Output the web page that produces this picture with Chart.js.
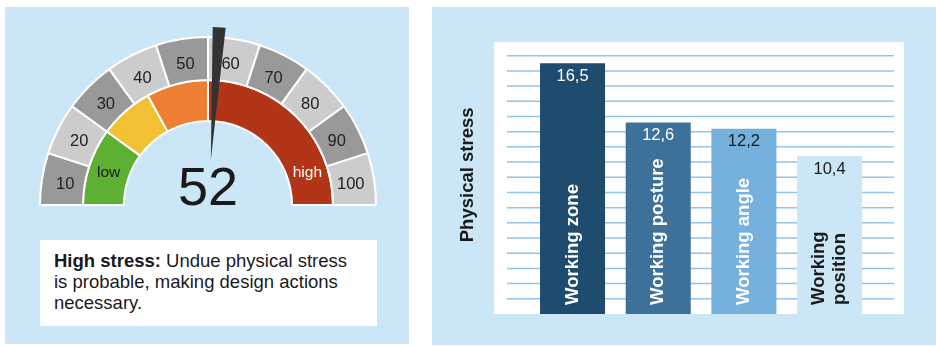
<!DOCTYPE html>
<html>
<head>
<meta charset="utf-8">
<script src="https://cdn.jsdelivr.net/npm/chart.js@4"></script>
<style>
  body { margin: 0; width: 936px; height: 346px; background: #fff; position: relative; overflow: hidden;
         font-family: "Liberation Sans", Arial, sans-serif; }
  .panel { position: absolute; background: #cbe7f7; }
  #left { left: 5px; top: 7px; width: 404px; height: 337px; }
  #right { left: 432px; top: 7px; width: 504px; height: 338px; }
  canvas { position: absolute; left: 0; top: 0; }
  #note { position: absolute; left: 35px; top: 233px; width: 337px; height: 86px; background: #fff;
          box-sizing: border-box; padding: 10px 0 0 14px; font-size: 18.5px; line-height: 21px; color: #1a1a1a; }
</style>
</head>
<body>
<div class="panel" id="left">
  <canvas id="gauge" width="404" height="337"></canvas>
  <div id="note"><b>High stress:</b> Undue physical stress<br>is probable, making design actions<br>necessary.</div>
</div>
<div class="panel" id="right">
  <canvas id="bars" width="504" height="338"></canvas>
</div>
<script>
// gauge data
const gaugeTicks = ['10', '20', '30', '40', '50', '60', '70', '80', '90', '100'];
const gaugeTickSpans = [10, 10, 10, 10, 10, 10, 10, 10, 10, 10];
const zoneLabels = ['low', '', '', 'high'];
const zoneSpans = [20, 14, 16, 50];
const stressValue = 52;

// bar data
const categories = [['Working zone'], ['Working posture'], ['Working angle'], ['Working', 'position']];
const stressScores = [16.5, 12.6, 12.2, 10.4];
const valueLabels = ['16,5', '12,6', '12,2', '10,4'];

const FONT = '"Liberation Sans", Arial, sans-serif';
const barColors = ['#1f4b6e', '#3d7199', '#76b1dd', '#cbe7f7'];
const barTextColors = ['#fff', '#fff', '#fff', '#1a1a1a'];
const valueTextColors = ['#fff', '#fff', '#1a1a1a', '#1a1a1a'];

const gaugeDecor = {
  id: 'gaugeDecor',
  afterDatasetsDraw(chart) {
    const {ctx} = chart;
    const outer = chart.getDatasetMeta(0).data;
    const inner = chart.getDatasetMeta(1).data;
    const cx = outer[0].x, cy = outer[0].y;
    ctx.save();
    ctx.textAlign = 'center';
    ctx.textBaseline = 'middle';

    // tick labels in the grey ring
    ctx.font = '16.5px ' + FONT;
    ctx.fillStyle = '#222';
    outer.forEach((arc, i) => {
      const a = (arc.startAngle + arc.endAngle) / 2;
      const r = (arc.innerRadius + arc.outerRadius) / 2 - 2;
      ctx.fillText(gaugeTicks[i], cx + r * Math.cos(a), cy + r * Math.sin(a) + 2);
    });

    // low / high
    ctx.font = '15.5px ' + FONT;
    inner.forEach((arc, i) => {
      if (!zoneLabels[i]) return;
      const a = i === 0 ? arc.startAngle + Math.PI / 10 : arc.endAngle - Math.PI / 10;
      const r = (arc.innerRadius + arc.outerRadius) / 2;
      ctx.fillStyle = i === 0 ? '#1a1a1a' : '#fff';
      ctx.fillText(zoneLabels[i], cx + r * Math.cos(a), cy + r * Math.sin(a));
    });

    // value
    ctx.font = '54px ' + FONT;
    ctx.fillStyle = '#1a1a1a';
    ctx.textBaseline = 'alphabetic';
    ctx.fillText(String(stressValue), cx, cy);

    // needle
    const start = outer[0].startAngle, end = outer[outer.length - 1].endAngle;
    const a = start + (end - start) * stressValue / 100;
    const r0 = 45, r1 = 178, hw = 6.5;
    const px = -Math.sin(a), py = Math.cos(a);
    ctx.beginPath();
    ctx.moveTo(cx + r0 * Math.cos(a), cy + r0 * Math.sin(a));
    ctx.lineTo(cx + r1 * Math.cos(a) + px * hw, cy + r1 * Math.sin(a) + py * hw);
    ctx.lineTo(cx + r1 * Math.cos(a) - px * hw, cy + r1 * Math.sin(a) - py * hw);
    ctx.closePath();
    ctx.fillStyle = '#333';
    ctx.fill();
    ctx.restore();
  }
};

new Chart(document.getElementById('gauge'), {
  type: 'doughnut',
  data: {
    labels: gaugeTicks,
    datasets: [
      {
        data: gaugeTickSpans,
        backgroundColor: gaugeTicks.map((t, i) => i % 2 === 0 ? '#999999' : '#cccccc'),
        borderColor: '#fff',
        borderWidth: 2,
        weight: 43
      },
      {
        data: zoneSpans,
        backgroundColor: ['#5db031', '#f1c033', '#ee7f32', '#b33517'],
        borderColor: '#fff',
        borderWidth: 2,
        weight: 41
      }
    ]
  },
  options: {
    responsive: false,
    animation: false,
    rotation: -90,
    circumference: 180,
    cutout: '50%',
    radius: 168,
    layout: {padding: {left: 35, right: 33, top: 30, bottom: 139}},
    plugins: {legend: {display: false}, tooltip: {enabled: false}}
  },
  plugins: [gaugeDecor]
});

const barDecor = {
  id: 'barDecor',
  beforeDatasetsDraw(chart) {
    const {ctx, chartArea: area, scales: {y}} = chart;
    ctx.save();
    ctx.fillStyle = '#fff';
    ctx.fillRect(area.left - 35.7, area.top - 13.7, area.width + 67.3, area.height + 13.7);
    ctx.strokeStyle = '#93c5e8';
    ctx.lineWidth = 1.5;
    for (let v = 1; v <= 17; v++) {
      const py = y.getPixelForValue(v);
      ctx.beginPath();
      ctx.moveTo(area.left - 22.7, py);
      ctx.lineTo(area.right + 21.6, py);
      ctx.stroke();
    }
    // axis title
    ctx.translate(area.left - 61.7, (area.top + area.bottom) / 2 - 10);
    ctx.rotate(-Math.PI / 2);
    ctx.font = 'bold 18.5px ' + FONT;
    ctx.fillStyle = '#1a1a1a';
    ctx.textAlign = 'center';
    ctx.textBaseline = 'middle';
    ctx.fillText('Physical stress', 0, 0);
    ctx.restore();
  },
  afterDatasetsDraw(chart) {
    const {ctx} = chart;
    const bars = chart.getDatasetMeta(0).data;
    ctx.save();
    bars.forEach((bar, i) => {
      ctx.textAlign = 'center';
      ctx.textBaseline = 'middle';
      ctx.font = '16.5px ' + FONT;
      ctx.fillStyle = valueTextColors[i];
      ctx.fillText(valueLabels[i], bar.x, bar.y + 13);

      ctx.save();
      ctx.translate(bar.x, bar.base - 9);
      ctx.rotate(-Math.PI / 2);
      ctx.textAlign = 'left';
      ctx.font = 'bold 18.5px ' + FONT;
      ctx.fillStyle = barTextColors[i];
      const lines = categories[i];
      lines.forEach((line, k) => {
        ctx.fillText(line, 0, (k - (lines.length - 1) / 2) * 21);
      });
      ctx.restore();
    });
    ctx.restore();
  }
};

new Chart(document.getElementById('bars'), {
  type: 'bar',
  data: {
    labels: categories,
    datasets: [{
      data: stressScores,
      backgroundColor: barColors,
      borderWidth: 0,
      barPercentage: 0.759,
      categoryPercentage: 1
    }]
  },
  options: {
    responsive: false,
    animation: false,
    layout: {padding: {left: 97.7, right: 63.6, top: 48.7, bottom: 31}},
    scales: {
      x: {display: false},
      y: {display: false, min: 0, max: 17}
    },
    plugins: {legend: {display: false}, tooltip: {enabled: false}}
  },
  plugins: [barDecor]
});
</script>
</body>
</html>
